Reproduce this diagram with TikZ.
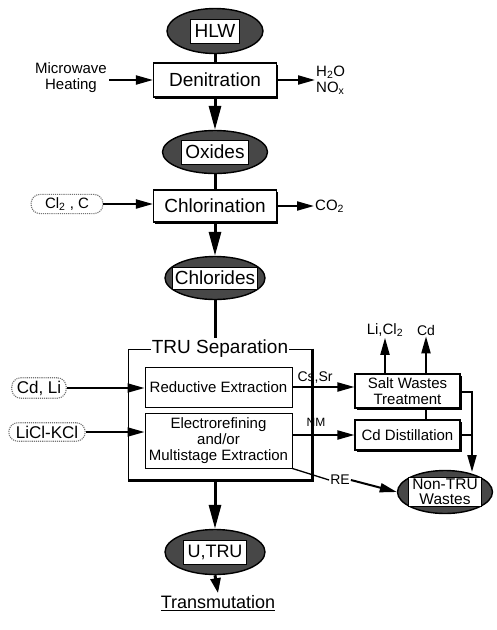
\documentclass[tikz,border=0pt]{standalone}
\usepackage{fontspec}
\setmainfont{Liberation Sans}
\usetikzlibrary{arrows.meta,shapes.geometric,shadows}
\tikzset{
  bigf/.style={font=\fontsize{19}{22}\selectfont},
  feedf/.style={font=\fontsize{17}{19}\selectfont},
  midf/.style={font=\fontsize{15}{16}\selectfont},
  smallf/.style={font=\fontsize{14}{15}\selectfont},
  tinyf/.style={font=\fontsize{12}{13}\selectfont},
  shadowbox/.style={draw,line width=1.1pt,fill=white,inner sep=2pt,
    drop shadow={shadow xshift=1.8pt,shadow yshift=-1.8pt,fill=black,opacity=1}},
  plainbox/.style={draw,line width=1pt,fill=white,inner sep=2pt},
  blob/.style={ellipse,draw,line width=1.4pt,fill=black!72,inner sep=0pt},
  blobtext/.style={draw,line width=0.8pt,fill=white,inner xsep=4pt,inner ysep=2pt,minimum height=24pt},
  feed/.style={draw=black!55,densely dotted,line width=1.1pt,rounded corners=9pt,inner ysep=3pt},
  mainline/.style={line width=3pt},
  mainarrow/.style={line width=3pt,-{Triangle[length=24pt,width=12pt]}},
  sidearrow/.style={line width=2pt,-{Triangle[length=17pt,width=9pt]}},
}
\begin{document}
\begin{tikzpicture}[x=1pt,y=-1pt]
\useasboundingbox (0,0) rectangle (496,630);

% HLW
\node[blob,minimum width=96pt,minimum height=45pt] (hlw) at (215,31) {};
\node[blobtext,bigf] (hlwt) at (hlw) {HLW};

% Denitration
\node[shadowbox,bigf,minimum width=123pt,minimum height=34pt] (den) at (215,80) {Denitration};
\node[midf,align=center,inner sep=2pt] (mw) at (71,78) {Microwave\\Heating};
\node[midf,align=left,anchor=west,inner sep=1pt] (gas) at (315,80) {H\textsubscript{2}O\\NO\textsubscript{x}};
\draw[mainline] (hlw.south) -- (den.north);
\draw[sidearrow] (mw.east |- den.west) -- (den.west);
\draw[sidearrow] (den.east) -- (gas.west |- den.east);

% Oxides
\node[blob,minimum width=105pt,minimum height=43pt] (ox) at (215,152) {};
\node[blobtext,bigf] (oxt) at (ox) {Oxides};
\draw[mainarrow] (den.south) -- (ox.north);

% Chlorination
\node[shadowbox,bigf,minimum width=123pt,minimum height=32pt] (chl) at (215,206) {Chlorination};
\node[feed,midf,inner xsep=14pt] (clc) at (67,204) {Cl\textsubscript{2} , C};
\node[midf,anchor=west,inner sep=1pt] (co) at (314,206) {CO\textsubscript{2}};
\draw[mainline] (ox.south) -- (chl.north);
\draw[sidearrow] (clc.east) -- (clc.east -| chl.west);
\draw[sidearrow] (chl.east) -- (co.west);

% Chlorides
\node[blob,minimum width=100pt,minimum height=43pt] (chd) at (215,278) {};
\node[blobtext,bigf,minimum height=22pt,inner xsep=2pt] (chdt) at (chd) {Chlorides};
\draw[mainarrow] (chl.south) -- (chd.north);

% TRU separation frame
\node[draw,line width=1pt,minimum width=184pt,minimum height=131pt] (tru) at (220,414.5) {};
\node[bigf,fill=white,inner sep=1pt] (trut) at (tru.north) {TRU Separation};
\draw[line width=3pt] (tru.north east) -- (tru.south east) -- (tru.south west);
\draw[mainline] (chd.south) -- (chd.south |- trut.north);

\node[plainbox,midf,minimum width=147pt,minimum height=40pt] (red) at (218.5,387) {Reductive Extraction};
\node[plainbox,midf,align=center,minimum width=147pt,minimum height=55pt] (ele) at (218.5,440.5) {Electrorefining\\and/or\\Multistage Extraction};

% feeds
\node[feed,feedf,inner xsep=5pt] (cdli) at (39,388) {Cd, Li};
\node[feed,feedf,inner xsep=7pt] (lkcl) at (47,432) {LiCl-KCl};
\draw[sidearrow] (cdli.east) -- (cdli.east -| red.west);
\draw[sidearrow] (lkcl.east) -- (lkcl.east -| ele.west);

% salt and Cd distillation
\node[shadowbox,midf,align=center,minimum width=105pt,minimum height=34pt] (salt) at (407.5,391) {Salt Wastes\\Treatment};
\node[shadowbox,midf,minimum width=105pt,minimum height=30pt] (cdd) at (407.5,435) {Cd Distillation};

\node[smallf,inner sep=1pt] (cssr) at (315,378) {Cs,Sr};
\node[tinyf,inner sep=1pt] (nm) at (316,422) {NM};
\node[smallf,inner sep=1pt] (re) at (340,480) {RE};
\node[midf,inner sep=1pt] (licl) at (385,330) {Li,Cl\textsubscript{2}};
\node[smallf,inner sep=1pt] (cdo) at (426,330) {Cd};

\draw[sidearrow] (red.east) -- (red.east -| salt.west);
\draw[sidearrow] (cdd.west -| ele.east) -- (cdd.west);
\draw[sidearrow] (salt.north -| licl) -- (licl.south);
\draw[sidearrow] (salt.north -| cdo) -- (cdo.south);
\draw[line width=1.2pt] (salt.south -| cdo) -- (cdd.north -| cdo);

% Non-TRU wastes
\node[blob,minimum width=95pt,minimum height=43pt] (ntru) at (445,492) {};
\node[blobtext,font=\fontsize{15.5}{15}\selectfont,align=center,inner ysep=1.5pt] (ntrut) at (ntru) {Non-TRU\\Wastes};

\coordinate (rj) at (472,392);
\draw[line width=2pt,-{Triangle[length=17pt,width=9pt]}] (salt.east |- rj) -- (rj) -- (472,472);
\draw[line width=2pt] (cdd.east) -- (cdd.east -| rj);
\draw[line width=1.3pt] (ele.south east) -- (re.west);
\draw[sidearrow] (re.east) -- (ntru.west);

% U,TRU
\node[blob,minimum width=100pt,minimum height=45pt] (utru) at (215,552) {};
\node[blobtext,font=\fontsize{18}{20}\selectfont] (utrut) at (utru) {U,TRU};
\draw[mainarrow] (tru.south -| utru.north) -- (utru.north);

\node[font=\fontsize{18}{20}\selectfont,inner sep=2pt] (trans) at (218,603) {\underline{Transmutation}};
\draw[line width=3pt,-{Triangle[length=15pt,width=10pt]}] (utru.south) -- (trans.north);
\end{tikzpicture}
\end{document}
